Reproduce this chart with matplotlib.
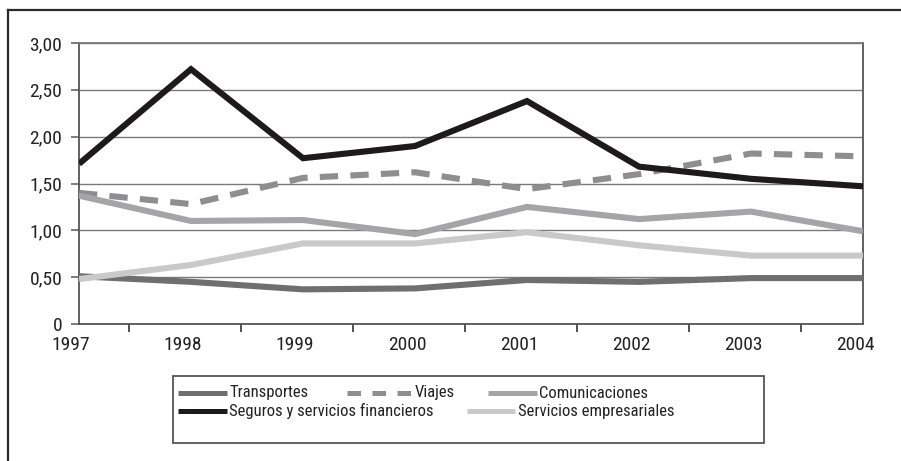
import matplotlib
matplotlib.use("Agg")
import matplotlib.pyplot as plt
from matplotlib.lines import Line2D
from matplotlib.patches import Rectangle
from matplotlib.transforms import ScaledTranslation
import numpy as np

years = ["1997", "1998", "1999", "2000", "2001", "2002", "2003", "2004"]
transportes = [0.51, 0.45, 0.37, 0.38, 0.47, 0.45, 0.49, 0.49]
viajes = [1.40, 1.28, 1.56, 1.62, 1.44, 1.60, 1.82, 1.79]
comunicaciones = [1.37, 1.10, 1.11, 0.96, 1.25, 1.12, 1.20, 0.99]
seguros = [1.71, 2.72, 1.77, 1.90, 2.38, 1.68, 1.55, 1.47]
servicios = [0.48, 0.63, 0.86, 0.86, 0.98, 0.84, 0.73, 0.73]
yticks = [0, 0.5, 1.0, 1.5, 2.0, 2.5, 3.0]
ytick_labels = ["0", "0,50", "1,00", "1,50", "2,00", "2,50", "3,00"]

FONT = ["Roboto Condensed", "Archivo Narrow", "Liberation Sans Narrow", "Liberation Sans", "DejaVu Sans"]
plt.rcParams['font.family'] = FONT

W, H = 901, 461
fig = plt.figure(figsize=(W / 100, H / 100), dpi=100)
fx = lambda px: px / W
fy = lambda py: 1 - py / H

ax = fig.add_axes([fx(79), fy(324), fx(863) - fx(79), fy(43) - fy(324)])
x = np.arange(len(years))

series = [
    ("Transportes", transportes, "#6f6f6f", "-"),
    ("Viajes", viajes, "#8e8e8e", "--"),
    ("Comunicaciones", comunicaciones, "#a5a5a7", "-"),
    ("Seguros y servicios financieros", seguros, "#1c1a1a", "-"),
    ("Servicios empresariales", servicios, "#c9c9c9", "-"),
]
order = [4, 0, 2, 1, 3]
for i in order:
    name, vals, col, ls = series[i]
    kw = dict(color=col, lw=4.4, solid_joinstyle="miter", solid_capstyle="butt", zorder=3 + i)
    if ls == "--":
        ax.plot(x, vals, dashes=(3, 2), dash_capstyle="butt", **kw)
    else:
        ax.plot(x, vals, **kw)

FS = 12
TFS = 14
ax.set_xlim(0, 7)
ax.set_ylim(0, 3.0)
ax.set_yticks(yticks)
ax.set_yticklabels(ytick_labels)
ax.yaxis.grid(True, color="#7a7a7a", lw=1.0, zorder=1)
ax.set_axisbelow(True)
ax.set_xticks(x)
ax.set_xticklabels(years)
ax.set_xticks(np.arange(7) + 0.45, minor=True)
ax.tick_params(axis="x", which="major", length=0, pad=9, labelsize=TFS, labelcolor="#222222")
ax.tick_params(axis="x", which="minor", length=6, width=1.2, color="#333333", direction="out")
ax.tick_params(axis="y", length=6, width=1.2, color="#666666", pad=6, labelsize=TFS, labelcolor="#222222")
for lab in ax.get_xticklabels():
    lab.set_transform(lab.get_transform() + ScaledTranslation(-8 / 100, 0, fig.dpi_scale_trans))
for side in ["left", "bottom", "right", "top"]:
    ax.spines[side].set_color("#555555")
    ax.spines[side].set_linewidth(1.3)
ax.spines["top"].set_color("#7a7a7a")

# outer frame (top and left edges visible)
fig.add_artist(Line2D([fx(8), 1.0], [fy(10), fy(10)], transform=fig.transFigure, color="#2a2a2a", lw=1.6))
fig.add_artist(Line2D([fx(8), fx(8)], [fy(10), 0.0], transform=fig.transFigure, color="#2a2a2a", lw=1.6))

# legend box
fig.add_artist(Rectangle((fx(173), fy(443)), fx(764) - fx(173), fy(376) - fy(443),
                         transform=fig.transFigure, fill=False, edgecolor="#555555", lw=1.3))
leg_items = [
    (0, 178, 227, 229, 393),
    (1, 347, 413, 415, 393),
    (2, 488, 537, 539, 393),
    (3, 178, 227, 229, 411),
    (4, 467, 515, 518, 411),
]
for idx, h0, h1, tx, ty in leg_items:
    name, vals, col, ls = series[idx]
    if ls == "--":
        ln = Line2D([fx(h0), fx(h1)], [fy(ty), fy(ty)], transform=fig.transFigure, color=col,
                    lw=3.6, dashes=(2.7, 2.3), dash_capstyle="butt")
    else:
        ln = Line2D([fx(h0), fx(h1)], [fy(ty), fy(ty)], transform=fig.transFigure, color=col,
                    lw=3.6, solid_capstyle="butt")
    fig.add_artist(ln)
    fig.text(fx(tx), fy(ty), name, transform=fig.transFigure, ha="left", va="center",
             fontsize=FS, color="#222222")

fig.savefig("out.png", dpi=100)
